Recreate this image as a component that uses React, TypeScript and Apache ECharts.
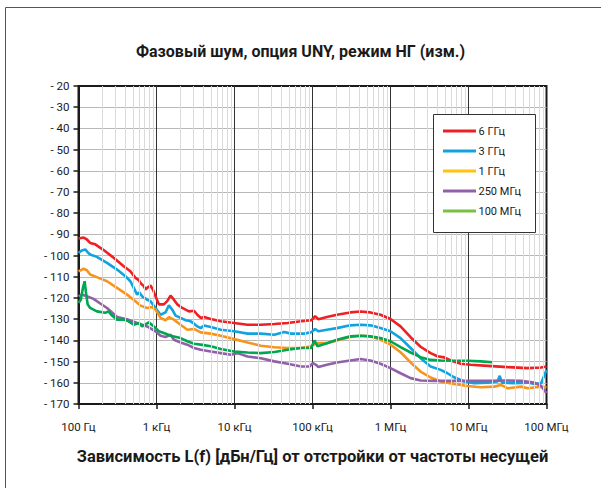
import React, { useEffect, useRef } from 'react';
import * as echarts from 'echarts';

const TITLE = 'Фазовый шум, опция UNY, режим НГ (изм.)';
const X_NAME = 'Зависимость L(f) [дБн/Гц] от отстройки от частоты несущей';
const DECADES = [1e2, 1e3, 1e4, 1e5, 1e6, 1e7, 1e8];
const DECADE_LABELS = ['100 Гц', '1 кГц', '10 кГц', '100 кГц', '1 МГц', '10 МГц', '100 МГц'];
const MINOR_MULTIPLIERS = [2, 3, 4, 5, 6, 7, 8, 9];
const SERIES_NAMES = ['6 ГГц', '3 ГГц', '1 ГГц', '250 МГц', '100 МГц'];
const LINE_COLORS = ['#ed2024', '#12a3de', '#f7941d', '#9160a9', '#00a651'];
const LEGEND_COLORS = ['#ed2024', '#12a3de', '#ffc20e', '#9160a9', '#7ac143'];

const s6GHz: [number, number][] = [
  [100, -91.9], [116, -91.5], [128, -92.4], [141, -94], [164, -94.7], [210, -97.4], [282, -101],
  [380, -105], [462, -107.4], [537, -110.5], [593, -111.6], [622, -112.9], [687, -114.4], [722, -116],
  [758, -115.2], [837, -114.1], [906, -116.3], [971, -119.2], [1072, -123], [1242, -123], [1371, -121.5],
  [1514, -118.9], [1671, -120.8], [1846, -123], [2140, -124.7], [2362, -125.5], [2608, -126.3],
  [3025, -126], [3340, -127.9], [3688, -129.4], [4068, -129], [4955, -129.9], [6668, -131], [9900, -131.8],
  [14700, -132.6], [21800, -132.6], [32400, -132.3], [48100, -131.8], [71400, -131], [96100, -130.5],
  [100000, -129.9], [108000, -128.6], [119000, -130], [153000, -129], [206000, -127.9], [305000, -126.8],
  [411000, -126.4], [552000, -126.8], [743000, -127.9], [1.0e6, -129.9], [1.345e6, -133.4], [1.81e6, -138.5],
  [2.43e6, -143], [3.27e6, -146], [3.99e6, -147.5], [4.86e6, -148], [5.93e6, -149.5], [7.96e6, -151],
  [1.07e7, -151.5], [1.76e7, -152], [3.18e7, -152.6], [5.75e7, -153.1], [8.54e7, -152.8], [1.0e8, -152.3],
];

const s3GHz: [number, number][] = [
  [100, -98.7], [110, -97.6], [122, -97.1], [131, -98.4], [141, -99.5], [172, -100.6], [232, -103.4],
  [312, -106.6], [399, -109.7], [462, -112.1], [511, -115.2], [564, -118.4], [593, -117.4], [610, -117.6],
  [654, -119.2], [758, -120.8], [837, -121.5], [971, -124.7], [1126, -127.9], [1306, -126.8], [1442, -123.4],
  [1591, -125.5], [1757, -128.3], [2035, -129.4], [2362, -130.5], [2742, -131], [3025, -132.1], [3340, -133.4],
  [3688, -134.2], [4068, -133], [4955, -133.7], [6668, -135], [9900, -135.7], [14700, -136.8], [21800, -136.8],
  [32400, -137.3], [43500, -136], [53100, -136.8], [78900, -136.8], [96100, -136.2], [100000, -135.7],
  [108000, -134.6], [119000, -135.7], [153000, -135], [206000, -134.2], [305000, -132.9], [411000, -132.6],
  [552000, -132.9], [743000, -134.2], [1.0e6, -135.7], [1.345e6, -138.9], [1.81e6, -143.6], [2.43e6, -148.4],
  [3.27e6, -152.3], [4.4e6, -153.9], [5.37e6, -155.5], [6.54e6, -157.4], [8.79e6, -159.4], [1.18e7, -160.2],
  [1.76e7, -159.9], [2.36e7, -159.4], [2.51e7, -156.7], [2.69e7, -159.9], [3.87e7, -160.2], [5.75e7, -159.9],
  [7.0e7, -160.5], [8.54e7, -160.2], [9.25e7, -157], [1.0e8, -153.9],
];

const s1GHz: [number, number][] = [
  [100, -107.4], [116, -106.2], [128, -106.9], [141, -108.9], [181, -110.5], [232, -112.1], [312, -115.2],
  [419, -118.4], [537, -121.5], [622, -123.6], [758, -124.7], [879, -124.2], [971, -125.5], [1126, -129.4],
  [1306, -130.5], [1442, -129], [1671, -130.2], [2035, -132.6], [2483, -135], [3025, -134.6], [3688, -136.2],
  [4955, -136.8], [6668, -137.8], [9900, -139.4], [14700, -141], [21800, -142.5], [32400, -143.2],
  [48100, -143.6], [71400, -143.6], [96100, -142.8], [111000, -141.3], [153000, -141.3], [206000, -140],
  [305000, -138.4], [411000, -137.8], [552000, -138.1], [743000, -139.7], [1.0e6, -142], [1.345e6, -145.6],
  [1.81e6, -150.4], [2.43e6, -154.7], [3.27e6, -157.5], [4.4e6, -159.4], [6.54e6, -160.5], [9.7e6, -161.5],
  [1.44e7, -162.1], [2.14e7, -161.8], [2.61e7, -161], [3.18e7, -162.6], [4.72e7, -161.8], [5.75e7, -162.6],
  [8.54e7, -161.8], [1.0e8, -162.1],
];

const s250MHz: [number, number][] = [
  [100, -119.2], [110, -118.4], [128, -119.2], [156, -120.4], [190, -122.6], [232, -124.7], [312, -129],
  [419, -130], [564, -131.8], [758, -133.4], [971, -135.7], [1126, -137.8], [1306, -138.4], [1514, -137.3],
  [1671, -139.7], [2035, -141], [2483, -142], [3025, -143.6], [3688, -144.4], [4955, -145.2], [6668, -146],
  [8980, -146.8], [10900, -146], [14700, -147.6], [21800, -148.4], [32400, -149.9], [48100, -151],
  [71400, -152.3], [91500, -152.3], [101000, -150.7], [111000, -151.5], [119000, -152.6], [153000, -151.5],
  [206000, -150.4], [305000, -149.5], [411000, -148.8], [552000, -149.5], [743000, -151], [1.0e6, -153.1],
  [1.345e6, -155.5], [1.81e6, -157.8], [2.43e6, -158.9], [3.61e6, -159.1], [5.93e6, -159.1], [9.7e6, -159.1],
  [1.76e7, -159.1], [3.18e7, -158.9], [4.72e7, -159.1], [7.0e7, -159.9], [8.54e7, -161.5], [1.0e8, -164.9],
];

const s100MHz: [number, number][] = [
  [100, -122.3], [107, -120.8], [114, -115.2], [120, -112.1], [124, -116.8], [131, -123], [141, -124.7],
  [172, -126.3], [220, -127], [243, -126.3], [269, -128.3], [312, -130.2], [380, -130.2], [440, -131],
  [511, -132.6], [593, -131.8], [654, -133.4], [796, -131.5], [924, -133.4], [1072, -135.7], [1242, -136.5],
  [1514, -137.8], [2035, -138.9], [2483, -140.4], [3025, -141.6], [3688, -142], [4955, -142.8], [6668, -144.1],
  [9900, -145.2], [14700, -145.7], [21800, -146], [32400, -145.5], [48100, -144.4], [71400, -143.6],
  [96100, -143.6], [106000, -140], [116000, -142.8], [153000, -141.3], [206000, -139.7], [305000, -138.1],
  [411000, -137.8], [552000, -138.1], [743000, -138.9], [1.0e6, -140.4], [1.345e6, -143.2], [1.81e6, -145.7],
  [2.43e6, -147.9], [3.27e6, -149.2], [4.4e6, -149.5], [6.54e6, -149.6], [9.7e6, -149.6], [1.44e7, -149.9],
  [2.04e7, -150.3],
];

const SERIES_DATA = [s6GHz, s3GHz, s1GHz, s250MHz, s100MHz];

const FONT = 'Roboto, "Noto Sans", sans-serif';

export default function App() {
  const ref = useRef<HTMLDivElement>(null);
  useEffect(() => {
    if (!ref.current) return;
    const chart = echarts.init(ref.current, undefined, { renderer: 'svg' });
    const minorValues: number[] = [];
    DECADES.slice(0, -1).forEach((d) => MINOR_MULTIPLIERS.forEach((m) => minorValues.push(d * m)));

    const legendBox = { x: 433.5, y: 114.5, w: 102, h: 118 };
    const legendChildren: any[] = [
      {
        type: 'rect',
        z: 100,
        shape: { x: 0, y: 0, width: legendBox.w, height: legendBox.h },
        style: { fill: '#ffffff', stroke: '#333', lineWidth: 1 },
      },
    ];
    SERIES_NAMES.forEach((n, i) => {
      const cy = 16.5 + i * 20;
      legendChildren.push({
        type: 'line',
        z: 101,
        shape: { x1: 9.5, y1: cy, x2: 42.5, y2: cy },
        style: { stroke: LEGEND_COLORS[i], lineWidth: 3 },
      });
      legendChildren.push({
        type: 'text',
        z: 101,
        x: 45,
        y: cy,
        style: {
          text: n,
          fontSize: 11,
          fontFamily: FONT,
          fill: '#1a1a1a',
          verticalAlign: 'middle',
        },
      });
    });

    const option: any = {
      animation: false,
      backgroundColor: '#ffffff',
      textStyle: { fontFamily: FONT },
      title: {
        text: TITLE,
        left: 'center',
        top: 38,
        textStyle: { fontSize: 16, fontWeight: 'bold', color: '#1a1a1a', fontFamily: FONT },
      },
      graphic: [
        {
          type: 'rect',
          shape: { x: 5.5, y: 7.5, width: 700, height: 700 },
          style: { fill: 'none', stroke: '#555', lineWidth: 1 },
          silent: true,
          z: -10,
        },
        {
          type: 'group',
          x: legendBox.x,
          y: legendBox.y,
          z: 100,
          silent: true,
          children: legendChildren,
        },
      ],
      grid: {
        left: 78.5,
        right: 54.5,
        top: 86,
        bottom: 84,
        show: true,
        borderColor: '#1a1a1a',
        borderWidth: 2,
        backgroundColor: 'transparent',
      },
      xAxis: {
        type: 'log',
        logBase: 10,
        min: 100,
        max: 1e8,
        name: X_NAME,
        nameLocation: 'middle',
        nameGap: 44,
        nameTextStyle: { fontSize: 16.5, fontWeight: 'bold', color: '#1a1a1a', fontFamily: FONT },
        axisLine: { show: true, lineStyle: { color: '#1a1a1a', width: 2 } },
        axisTick: { show: true, length: 5, lineStyle: { color: '#1a1a1a', width: 1.5 } },
        axisLabel: {
          fontSize: 11.5,
          color: '#1a1a1a',
          margin: 17,
          formatter: (v: number) => {
            const i = DECADES.findIndex((d) => Math.abs(d - v) / d < 1e-6);
            return i >= 0 ? DECADE_LABELS[i] : '';
          },
        },
        splitLine: { show: true, showMinLine: false, showMaxLine: false, lineStyle: { color: '#333', width: 1 } },
      },
      yAxis: {
        type: 'value',
        min: -170,
        max: -20,
        interval: 10,
        axisLine: { show: true, lineStyle: { color: '#1a1a1a', width: 2 } },
        axisTick: { show: true, length: 5, lineStyle: { color: '#1a1a1a', width: 1.5 } },
        axisLabel: {
          fontSize: 11.5,
          color: '#1a1a1a',
          margin: 9,
          formatter: (v: number) => (v < 0 ? '- ' + Math.abs(v) : String(v)),
        },
        splitLine: { show: true, showMinLine: false, showMaxLine: false, lineStyle: { color: '#b8b8b8', width: 1 } },
      },
      series: [
        {
          name: 'minor-grid',
          type: 'line',
          data: [],
          silent: true,
          z: 1,
          markLine: {
            silent: true,
            symbol: 'none',
            label: { show: false },
            animation: false,
            lineStyle: { color: '#dadada', width: 1, type: 'solid' },
            data: minorValues.map((v) => ({ xAxis: v })),
          },
        },
        ...SERIES_NAMES.map((n, i) => ({
          name: n,
          type: 'line',
          data: SERIES_DATA[i],
          showSymbol: false,
          symbol: 'none',
          z: 3,
          lineStyle: { color: LINE_COLORS[i], width: 2.6 },
          itemStyle: { color: LINE_COLORS[i] },
        })),
      ],
    };
    chart.setOption(option);
    return () => chart.dispose();
  }, []);
  return <div ref={ref} style={{ position: 'fixed', left: 0, top: 0, width: 601, height: 488 }} />;
}
